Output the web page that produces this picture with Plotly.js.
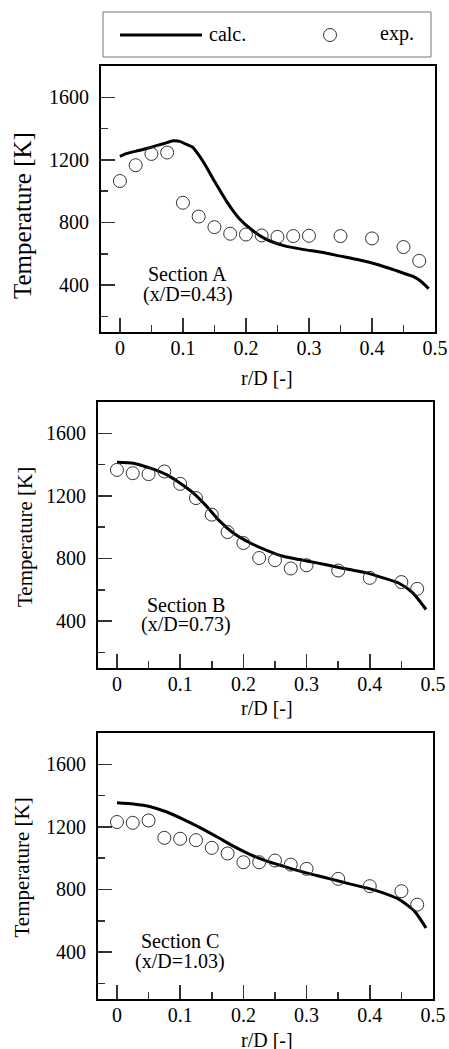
<!DOCTYPE html>
<html>
<head>
<meta charset="utf-8">
<script src="https://cdn.plot.ly/plotly-3.0.1.min.js"></script>
<style>html,body{margin:0;padding:0;background:#fff;}#chart{width:449px;height:1049px;}</style>
</head>
<body>
<div id="chart"></div>
<script>
// Experimental radial positions (same for all sections)
var rExp = [0, 0.025, 0.05, 0.075, 0.1, 0.125, 0.15, 0.175, 0.2, 0.225, 0.25, 0.275, 0.3, 0.35, 0.4, 0.45, 0.475];

// Section A (x/D=0.43)
var expA = [1065, 1166, 1238, 1247, 926, 838, 770, 728, 723, 717, 708, 713, 715, 713, 698, 643, 555];
var rCalcA = [0, 0.01, 0.03, 0.05, 0.07, 0.085, 0.095, 0.105, 0.115, 0.125, 0.135, 0.15, 0.17, 0.19, 0.21, 0.23, 0.26, 0.29, 0.32, 0.35, 0.38, 0.41, 0.44, 0.465, 0.475, 0.49];
var calcA = [1223, 1240, 1260, 1281, 1305, 1322, 1318, 1300, 1282, 1232, 1170, 1064, 930, 822, 750, 697, 652, 628, 610, 585, 560, 530, 490, 455, 432, 377];

// Section B (x/D=0.73)
var expB = [1366, 1345, 1339, 1356, 1277, 1186, 1080, 969, 899, 803, 789, 736, 757, 723, 676, 649, 606];
var rCalcB = [0, 0.026, 0.053, 0.079, 0.1, 0.121, 0.142, 0.163, 0.184, 0.211, 0.237, 0.263, 0.289, 0.316, 0.342, 0.368, 0.395, 0.421, 0.447, 0.468, 0.489];
var calcB = [1415, 1409, 1377, 1334, 1281, 1218, 1133, 1037, 963, 899, 852, 814, 793, 772, 750, 729, 708, 676, 640, 580, 474];

// Section C (x/D=1.03)
var expC = [1231, 1226, 1241, 1130, 1124, 1115, 1066, 1030, 974, 974, 985, 959, 932, 868, 821, 789, 703];
var rCalcC = [0, 0.026, 0.053, 0.079, 0.105, 0.132, 0.158, 0.184, 0.211, 0.237, 0.263, 0.289, 0.316, 0.342, 0.368, 0.395, 0.421, 0.447, 0.471, 0.489];
var calcC = [1354, 1346, 1329, 1295, 1248, 1194, 1137, 1077, 1023, 981, 949, 917, 889, 863, 836, 810, 778, 735, 660, 554];

var sectionLabels = ["Section A", "Section B", "Section C"];
var positionLabels = ["(x/D=0.43)", "(x/D=0.73)", "(x/D=1.03)"];
var xTickVals = [0, 0.1, 0.2, 0.3, 0.4, 0.5];
var yTickVals = [400, 800, 1200, 1600];
var seriesNames = ["calc.", "exp."];
var xTitle = "r/D [-]";
var yTitle = "Temperature [K]";

var W = 449, H = 1049;
var FONT = '"Liberation Serif", "Times New Roman", Times, serif';

var calcR = [rCalcA, rCalcB, rCalcC];
var calcT = [calcA, calcB, calcC];
var expT = [expA, expB, expC];

var traces = [];
for (var i = 0; i < 3; i++) {
  var sx = i === 0 ? 'x' : 'x' + (i + 1);
  var sy = i === 0 ? 'y' : 'y' + (i + 1);
  traces.push({
    x: calcR[i], y: calcT[i], xaxis: sx, yaxis: sy, type: 'scatter', mode: 'lines',
    name: seriesNames[0], showlegend: false,
    line: {color: '#000', width: 3, shape: 'spline', smoothing: 0.6}
  });
  traces.push({
    x: rExp, y: expT[i], xaxis: sx, yaxis: sy, type: 'scatter', mode: 'markers',
    name: seriesNames[1], showlegend: false,
    marker: {symbol: 'circle-open', size: 13, color: '#333', line: {width: 1, color: '#333'}}
  });
}

// panel geometry (pixels)
var panels = [
  {l: 101, r: 435, t: 66, b: 332, ytc: 216, ytx: 22, ytf: 25, xty: 378, ann: [0.1076, 469, 341]},
  {l: 98, r: 433, t: 402, b: 668, ytc: 537, ytx: 25, ytf: 21, xty: 708, ann: [0.1085, 502, 379]},
  {l: 98, r: 433, t: 733, b: 999, ytc: 868, ytx: 21.5, ytf: 21, xty: 1040, ann: [0.1005, 468, 340]}
];

function px(x) { return x / W; }
function py(y) { return 1 - y / H; }

var layout = {
  width: W, height: H,
  margin: {l: 0, r: 0, t: 0, b: 0},
  paper_bgcolor: '#fff', plot_bgcolor: '#fff',
  font: {family: FONT, size: 20, color: '#000'},
  showlegend: false,
  annotations: [],
  shapes: [
    // legend box
    {type: 'rect', xref: 'paper', yref: 'paper', x0: px(103), x1: px(431), y0: py(57), y1: py(12),
     line: {color: '#777', width: 1}, fillcolor: 'rgba(0,0,0,0)'},
    // legend line sample (calc.)
    {type: 'line', xref: 'paper', yref: 'paper', x0: px(120), x1: px(202), y0: py(35), y1: py(35),
     line: {color: '#000', width: 3}},
    // legend marker sample (exp.)
    {type: 'circle', xref: 'paper', yref: 'paper', x0: px(323.5), x1: px(336.5), y0: py(41.5), y1: py(28.5),
     line: {color: '#333', width: 1}, fillcolor: 'rgba(0,0,0,0)'}
  ],
  hovermode: false
};

layout.annotations.push({
  text: seriesNames[0], xref: 'paper', yref: 'paper', x: px(207), y: py(34),
  showarrow: false, xanchor: 'left', yanchor: 'middle', font: {family: FONT, size: 20, color: '#000'}
});
layout.annotations.push({
  text: seriesNames[1], xref: 'paper', yref: 'paper', x: px(378), y: py(34),
  showarrow: false, xanchor: 'left', yanchor: 'middle', font: {family: FONT, size: 20, color: '#000'}
});

for (var j = 0; j < 3; j++) {
  var p = panels[j];
  var xk = j === 0 ? 'xaxis' : 'xaxis' + (j + 1);
  var yk = j === 0 ? 'yaxis' : 'yaxis' + (j + 1);
  var xr = j === 0 ? 'x' : 'x' + (j + 1);
  var yr = j === 0 ? 'y' : 'y' + (j + 1);
  layout[xk] = {
    domain: [p.l / W, p.r / W], anchor: yr, range: [-0.03, 0.5],
    tickmode: 'array', tickvals: xTickVals,
    ticks: 'inside', ticklen: 14, tickwidth: 1.5, tickcolor: '#333',
    minor: {dtick: 0.05, tick0: 0, ticks: 'inside', ticklen: 7, tickwidth: 1.5, tickcolor: '#333'},
    showline: true, mirror: true, linecolor: '#000', linewidth: 2,
    showgrid: false, zeroline: false,
    tickfont: {family: FONT, size: 20, color: '#000'}, ticklabelstandoff: -3
  };
  layout[yk] = {
    domain: [1 - p.b / H, 1 - p.t / H], anchor: xr, range: [100, 1800],
    tickmode: 'array', tickvals: yTickVals,
    ticks: 'inside', ticklen: 14, tickwidth: 1.5, tickcolor: '#333',
    minor: {dtick: 200, tick0: 0, ticks: 'inside', ticklen: 7, tickwidth: 1.5, tickcolor: '#333'},
    showline: true, mirror: true, linecolor: '#000', linewidth: 2,
    showgrid: false, zeroline: false,
    tickfont: {family: FONT, size: 20, color: '#000'}, ticklabelstandoff: 6
  };
  layout.annotations.push({
    text: sectionLabels[j], xref: xr, yref: yr, x: p.ann[0], y: p.ann[1],
    showarrow: false, xanchor: 'center', yanchor: 'middle',
    font: {family: FONT, size: 20, color: '#000'}
  });
  layout.annotations.push({
    text: positionLabels[j], xref: xr, yref: yr, x: p.ann[0], y: p.ann[2],
    showarrow: false, xanchor: 'center', yanchor: 'middle',
    font: {family: FONT, size: 20, color: '#000'}
  });
  layout.annotations.push({
    text: yTitle, xref: 'paper', yref: 'paper', x: p.ytx / W, y: 1 - p.ytc / H,
    textangle: -90, showarrow: false, xanchor: 'center', yanchor: 'middle',
    font: {family: FONT, size: p.ytf, color: '#000'}
  });
  layout.annotations.push({
    text: xTitle, xref: 'paper', yref: 'paper', x: 267 / W, y: 1 - p.xty / H,
    showarrow: false, xanchor: 'center', yanchor: 'middle',
    font: {family: FONT, size: 20, color: '#000'}
  });
}

Plotly.newPlot('chart', traces, layout, {staticPlot: true, displayModeBar: false});
</script>
</body>
</html>
